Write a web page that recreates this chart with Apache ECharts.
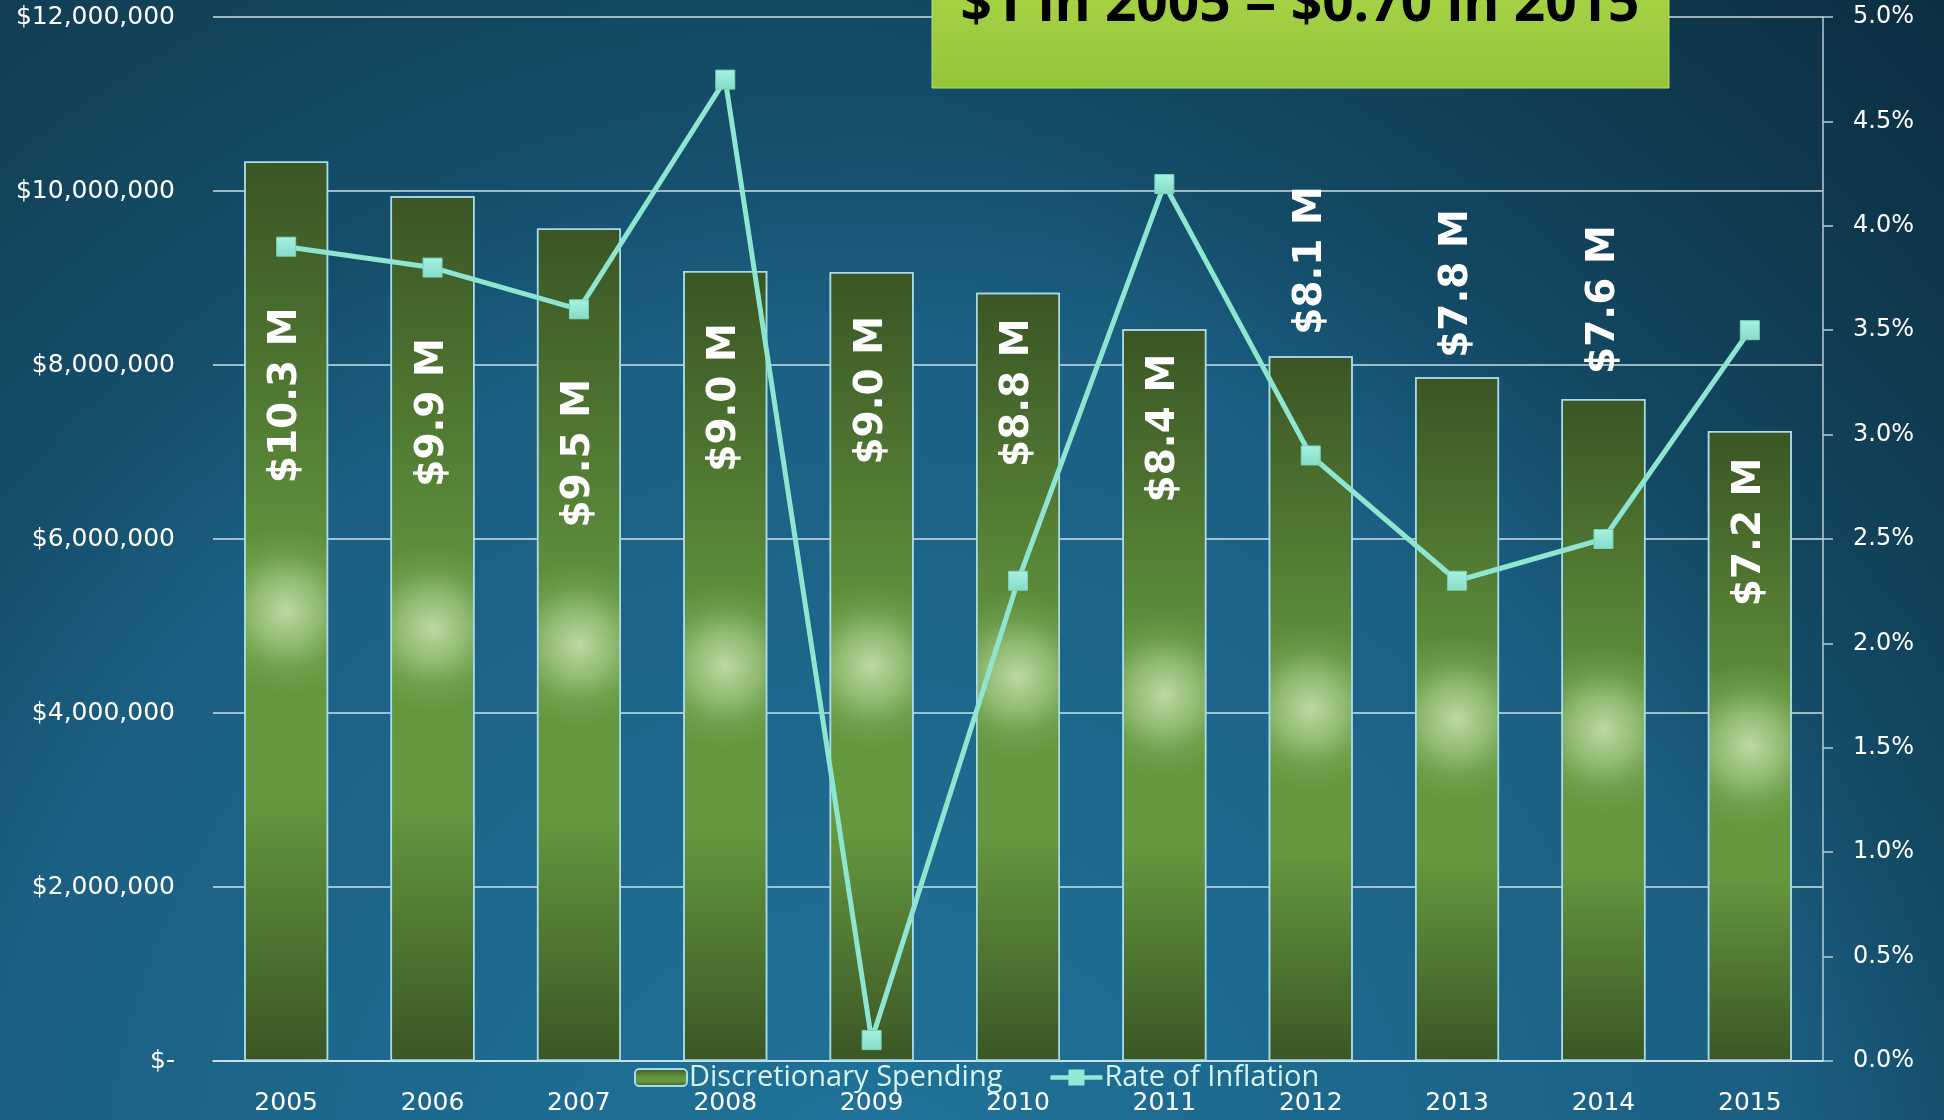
<!DOCTYPE html>
<html>
<head>
<meta charset="utf-8">
<script src="https://cdn.jsdelivr.net/npm/echarts@6/dist/echarts.min.js"></script>
<style>
html,body{margin:0;padding:0;background:#12435a;}
#chart{width:1944px;height:1120px;}
</style>
</head>
<body>
<div id="chart"></div>
<script>
// ---- data ----
const years = ['2005','2006','2007','2008','2009','2010','2011','2012','2013','2014','2015'];
const spending = [10340000, 9940000, 9570000, 9080000, 9070000, 8830000, 8410000, 8100000, 7860000, 7610000, 7240000];
const inflation = [3.9, 3.8, 3.6, 4.7, 0.1, 2.3, 4.2, 2.9, 2.3, 2.5, 3.5];
const leftTicks = [0, 2000000, 4000000, 6000000, 8000000, 10000000, 12000000];
const rightTicks = [0, 0.5, 1, 1.5, 2, 2.5, 3, 3.5, 4, 4.5, 5];
const titleText = '$1 in 2005 = $0.70 in 2015';
const seriesNames = ['Discretionary Spending', 'Rate of Inflation'];

// ---- label placement (style: vertical centre of each label as % of bar height from bar top) ----
const labelPlace = [26, 25, 27, 16, 15, 13, 13.5, -13.6, -13.7, -15, 16];

const chart = echarts.init(document.getElementById('chart'));

const baseFill = {
  type: 'linear', x: 0, y: 0, x2: 0, y2: 1,
  colorStops: [
    {offset: 0, color: '#3b5524'},
    {offset: 0.45, color: '#61933d'},
    {offset: 0.7, color: '#66993f'},
    {offset: 1, color: '#3b5625'}
  ]
};
const glowFill = {
  type: 'radial', x: 0.5, y: 0.5, r: 1.0,
  colorStops: [
    {offset: 0, color: 'rgba(200,225,175,0.9)'},
    {offset: 0.4, color: 'rgba(185,218,158,0.55)'},
    {offset: 0.7, color: 'rgba(165,205,135,0.18)'},
    {offset: 1, color: 'rgba(160,205,130,0)'}
  ]
};

const fmtM = v => '$' + (Math.floor(v / 1e5) / 10).toFixed(1) + ' M';
const lineIcon = 'path://M0,6L19,6L19,0L36,0L36,6L55,6L55,11L36,11L36,17L19,17L19,11L0,11Z';

const option = {
  animation: false,
  graphic: [
    {
      type: 'rect', z: -10, silent: true,
      shape: {x: 0, y: 0, width: 1944, height: 1120},
      style: {
        fill: {
          type: 'radial', x: 0.45, y: 1.1, r: 1.5,
          colorStops: [
            {offset: 0, color: '#2176a0'},
            {offset: 0.12, color: '#1f6f95'},
            {offset: 0.54, color: '#1b5f82'},
            {offset: 0.65, color: '#154f6c'},
            {offset: 0.82, color: '#12435a'},
            {offset: 1, color: '#10384d'}
          ]
        }
      }
    },
    {
      type: 'rect', z: -9, silent: true,
      shape: {x: 0, y: 0, width: 1944, height: 1120},
      style: {
        fill: {
          type: 'linear', x: 0.4, y: 1, x2: 1, y2: 0,
          colorStops: [
            {offset: 0, color: 'rgba(5,25,40,0)'},
            {offset: 0.5, color: 'rgba(5,25,40,0)'},
            {offset: 1, color: 'rgba(5,25,40,0.35)'}
          ]
        }
      }
    },
    {
      type: 'rect', z: 10,
      shape: {x: 932, y: -10, width: 737, height: 98},
      style: {
        fill: {type: 'linear', x: 0, y: 0, x2: 0, y2: 1,
          colorStops: [{offset: 0, color: '#a8d246'}, {offset: 1, color: '#92c53a'}]},
        stroke: '#b6dc68', lineWidth: 1
      }
    },
    {
      type: 'text', z: 11,
      style: {
        text: titleText, x: 1300, y: 5,
        align: 'center', verticalAlign: 'middle',
        fill: '#000', font: 'bold 55px "Open Sans", sans-serif'
      }
    }
  ],
  grid: {left: 213, right: 121, top: 17, bottom: 59, containLabel: false},
  legend: {
    left: 634, top: 1063, padding: 0,
    itemWidth: 52, itemHeight: 17, itemGap: 48,
    data: [
      {name: seriesNames[0]},
      {name: seriesNames[1], icon: lineIcon, itemStyle: {color: '#93e8d3', borderWidth: 0}}
    ],
    textStyle: {color: '#d7f3ef', fontSize: 29, fontFamily: 'Open Sans', padding: [0, 0, 0, -3]}
  },
  xAxis: {
    type: 'category', data: years,
    axisLine: {show: true, lineStyle: {color: '#dbe9ee', width: 1.5}},
    axisTick: {show: false},
    axisLabel: {color: '#ffffff', fontSize: 25, fontFamily: 'DejaVu Sans', margin: 30}
  },
  yAxis: [
    {
      type: 'value', min: leftTicks[0], max: leftTicks[leftTicks.length - 1], interval: leftTicks[1] - leftTicks[0],
      axisLine: {show: false}, axisTick: {show: false},
      splitLine: {lineStyle: {color: 'rgba(225,238,242,0.9)', width: 1.5}},
      axisLabel: {
        color: '#ffffff', fontSize: 25, fontFamily: 'DejaVu Sans', margin: 38,
        formatter: v => v === 0 ? '$-' : '$' + v.toLocaleString('en-US')
      }
    },
    {
      type: 'value', position: 'right',
      min: rightTicks[0], max: rightTicks[rightTicks.length - 1], interval: rightTicks[1] - rightTicks[0],
      axisLine: {show: true, lineStyle: {color: '#b9cdd4', width: 1.5}},
      axisTick: {show: true, length: 10, lineStyle: {color: '#b9cdd4', width: 1.5}},
      splitLine: {show: false},
      axisLabel: {color: '#ffffff', fontSize: 24, fontFamily: 'DejaVu Sans', margin: 30,
        formatter: v => v.toFixed(1) + '%'}
    }
  ],
  series: [
    {
      name: seriesNames[0], type: 'bar', yAxisIndex: 0, barWidth: 84,
      data: spending,
      itemStyle: {color: baseFill, borderColor: '#a8dcea', borderWidth: 1.5},
      z: 2
    },
    {
      type: 'bar', yAxisIndex: 0, barWidth: 84, barGap: '-100%', silent: true,
      data: spending.map((v, i) => ({
        value: v,
        label: {position: ['50%', labelPlace[i] + '%']}
      })),
      itemStyle: {color: glowFill, borderColor: '#a8dcea', borderWidth: 1.5},
      label: {
        show: true, rotate: 90, align: 'center', verticalAlign: 'middle',
        color: '#ffffff', fontSize: 39, fontWeight: 'bold', fontFamily: 'DejaVu Sans',
        formatter: p => fmtM(p.value)
      },
      z: 3
    },
    {
      name: seriesNames[1], type: 'line', yAxisIndex: 1,
      data: inflation,
      symbol: 'rect', symbolSize: 19,
      lineStyle: {color: '#8fe6d0', width: 5},
      itemStyle: {
        color: {type: 'linear', x: 0, y: 0, x2: 0, y2: 1,
          colorStops: [{offset: 0, color: '#a6f2e1'}, {offset: 1, color: '#86dcc6'}]},
        borderColor: '#7ed2bd', borderWidth: 1
      },
      z: 5
    }
  ]
};
chart.setOption(option);
</script>
</body>
</html>
